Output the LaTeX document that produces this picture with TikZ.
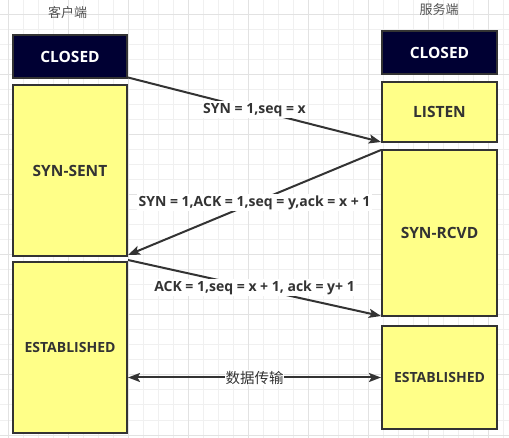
\documentclass[tikz,border=0pt]{standalone}
\usepackage{fontspec}
\setmainfont{Open Sans}
\newfontfamily\cjk{Noto Sans CJK SC}
\usetikzlibrary{arrows.meta}
\definecolor{navy}{HTML}{000033}
\definecolor{pale}{HTML}{FFFF88}
\definecolor{ink}{HTML}{333333}
\definecolor{gminor}{HTML}{F0F0F0}
\definecolor{gmajor}{HTML}{E2E2E2}
\tikzset{
  statebox/.style={draw=ink, line width=2pt, fill=pale, text=ink, font=\bfseries\fontsize{15.5}{17}\selectfont, inner sep=0pt, anchor=center},
  closedbox/.style={statebox, fill=navy, text=white},
  msg/.style={draw=ink, line width=2pt, -{Stealth[length=12pt,width=9pt,inset=2.5pt]}},
  msglabel/.style={fill=white, text=ink, font=\bfseries\fontsize{14}{16}\selectfont, inner sep=1.5pt},
  side/.style={text=ink!85, font=\cjk\fontsize{13}{15}\selectfont}
}
\begin{document}
\begin{tikzpicture}[x=1pt,y=-1pt]
\useasboundingbox (0,0) rectangle (509,438);
\fill[white] (0,0) rectangle (509,438);
% grid
\foreach \i in {0,...,33} { \draw[gminor, line width=1pt] ({8.3+15*\i},0) -- ({8.3+15*\i},438); }
\foreach \j in {0,...,29} { \draw[gminor, line width=1pt] (0,{15*\j}) -- (509,{15*\j}); }
\foreach \i in {0,...,8} { \draw[gmajor, line width=1pt] ({8.3+60*\i},0) -- ({8.3+60*\i},438); }
\foreach \j in {0,...,7} { \draw[gmajor, line width=1pt] (0,{15+60*\j}) -- (509,{15+60*\j}); }

% side labels
\node[side] (client) at (67.5,13) {客户端};
\node[side] (server) at (439,9.5) {服务端};

% left column
\node[closedbox, minimum width=114pt, minimum height=43pt] (closedL) at (70,56.5) {CLOSED};
\node[statebox, minimum width=114pt, minimum height=171pt] (synsent) at (70,170.5) {SYN-SENT};
\node[statebox, minimum width=114pt, minimum height=171pt] (estL) at (70,347.5) {\fontsize{14}{16}\selectfont ESTABLISHED};

% right column
\node[closedbox, minimum width=115pt, minimum height=43pt] (closedR) at (439.5,52.5) {CLOSED};
\node[statebox, minimum width=115pt, minimum height=60pt] (listen) at (439.5,112) {LISTEN};
\node[statebox, minimum width=115pt, minimum height=166pt] (synrcvd) at (439.5,233) {SYN-RCVD};
\node[statebox, minimum width=115pt, minimum height=103pt] (estR) at (439.5,377.5) {\fontsize{14}{16}\selectfont ESTABLISHED};

% messages
\draw[msg] ([yshift=1.5pt]closedL.south east) -- node[msglabel] {SYN = 1,seq = x} ([yshift=1pt]listen.south west);
\draw[msg] ([yshift=-1pt]synrcvd.north west) -- node[msglabel] {SYN = 1,ACK = 1,seq = y,ack = x + 1} ([yshift=2pt]synsent.south east);
\draw[msg] ([yshift=-3pt]synsent.south east) -- node[msglabel] {ACK = 1,seq = x + 1, ack = y+ 1} ([yshift=1pt]synrcvd.south west);
\draw[msg, {Stealth[length=12pt,width=9pt,inset=2.5pt]}-{Stealth[length=12pt,width=9pt,inset=2.5pt]}] (estL.east |- estR.west) -- node[msglabel, font=\cjk\fontsize{14.5}{16}\selectfont, inner sep=0.5pt] {数据传输} (estR.west);
\end{tikzpicture}
\end{document}
